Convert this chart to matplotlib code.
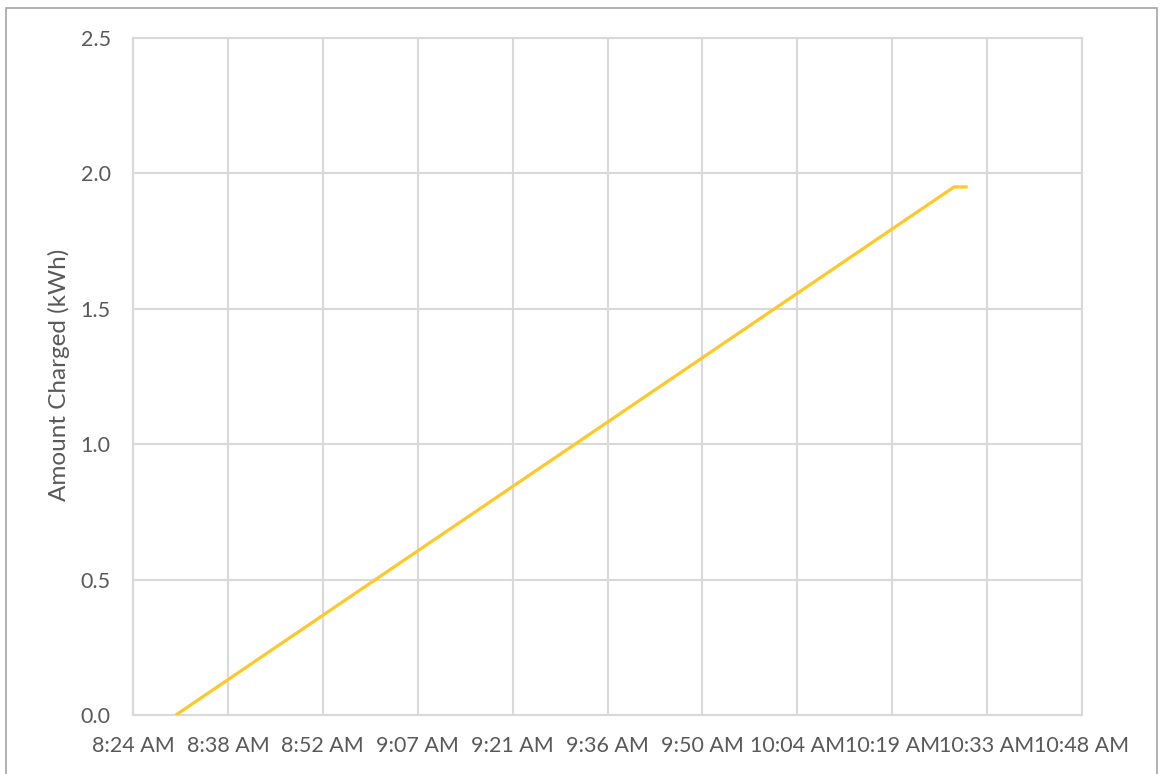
import datetime as dt
import matplotlib
matplotlib.use("Agg")
import matplotlib.pyplot as plt
from matplotlib.patches import Rectangle

# --- DATA ---
# charging session: time of reading and cumulative energy (kWh)
times = ["08:30:30", "10:28:35", "10:30:40"]
kwh = [0.0, 1.95, 1.95]

# Excel-style axis: ticks every 0.01 day (14.4 min) from 8:24 AM
tick_minutes = [504 + 14.4 * i for i in range(11)]
tick_labels = ["8:24 AM", "8:38 AM", "8:52 AM", "9:07 AM", "9:21 AM", "9:36 AM",
               "9:50 AM", "10:04 AM", "10:19 AM", "10:33 AM", "10:48 AM"]
y_ticks = [0.0, 0.5, 1.0, 1.5, 2.0, 2.5]

day = dt.datetime(2020, 1, 1)
x = [dt.datetime.combine(day.date(), dt.time.fromisoformat(t)) for t in times]
x_ticks = [day + dt.timedelta(minutes=m) for m in tick_minutes]

plt.rcParams['font.family'] = ['Lato', 'DejaVu Sans']
text_col = '#595959'
grid_col = '#d9d9d9'

fig = plt.figure(figsize=(11.6, 7.74), dpi=100)
ax = fig.add_axes([133 / 1160, 1 - 715 / 774, (1082 - 133) / 1160, (715 - 38) / 774])

ax.plot(x, kwh, color='#ffc829', linewidth=2.3, solid_capstyle='butt', zorder=3)

ax.set_xlim(x_ticks[0], x_ticks[-1])
ax.set_ylim(0, 2.5)
ax.set_xticks(x_ticks)
ax.set_xticklabels(tick_labels)
ax.set_yticks(y_ticks)
ax.set_yticklabels([f"{v:.1f}" for v in y_ticks])

ax.grid(True, color=grid_col, linewidth=1.5, zorder=0)
for s in ax.spines.values():
    s.set_color(grid_col)
    s.set_linewidth(1.5)
ax.tick_params(length=0, colors=text_col, labelsize=15.5)
ax.tick_params(axis='x', pad=15)
ax.tick_params(axis='y', pad=16)
ax.set_ylabel('Amount Charged (kWh)', color=text_col, fontsize=17.5)
ax.yaxis.set_label_coords(-0.066, 0.502)

# outer chart frame
fig.patches.append(Rectangle((6 / 1160, -0.05), (1157 - 6) / 1160, 1.05 - 8 / 774,
                             transform=fig.transFigure, fill=False,
                             edgecolor='#a6a6a6', linewidth=1.2))

plt.savefig('out.png', dpi=100)
